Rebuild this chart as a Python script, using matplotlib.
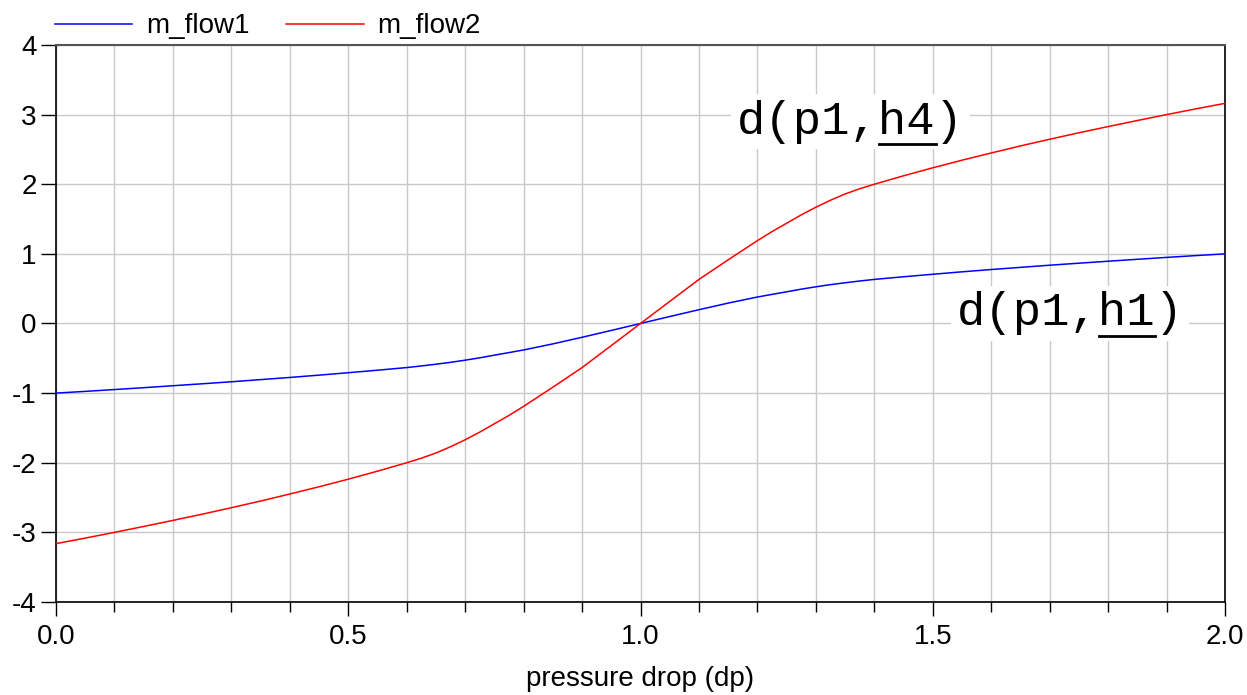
import numpy as np
import matplotlib
matplotlib.use("Agg")
import matplotlib.pyplot as plt
from matplotlib.lines import Line2D

plt.rcParams['font.family'] = ['Liberation Sans', 'DejaVu Sans']
plt.rcParams['axes.unicode_minus'] = False

# values
dp = [0.0, 0.05, 0.1, 0.15, 0.2, 0.25, 0.3, 0.35, 0.4, 0.45, 0.5,
      0.55, 0.6, 0.625, 0.65, 0.675, 0.7, 0.725, 0.75, 0.775, 0.8, 0.85, 0.9, 0.95, 1.0,
      1.05, 1.1, 1.15, 1.2, 1.225, 1.25, 1.275, 1.3, 1.325, 1.35, 1.375, 1.4, 1.45, 1.5,
      1.55, 1.6, 1.65, 1.7, 1.75, 1.8, 1.85, 1.9, 1.95, 2.0]
m_flow1 = [-1.0, -0.975, -0.949, -0.922, -0.894, -0.866, -0.837, -0.806, -0.775, -0.742, -0.707,
           -0.671, -0.633, -0.61, -0.585, -0.558, -0.527, -0.493, -0.455, -0.418, -0.38,
           -0.293, -0.198, -0.1, 0.0,
           0.1, 0.198, 0.293, 0.38, 0.418, 0.455, 0.493, 0.527, 0.558, 0.585, 0.61, 0.633,
           0.671, 0.707, 0.742, 0.775, 0.806, 0.837, 0.866, 0.894, 0.922, 0.949, 0.975, 1.0]
m_flow2 = [-3.162, -3.082, -3.0, -2.915, -2.828, -2.739, -2.646, -2.55, -2.449, -2.345, -2.236,
           -2.121, -2.0, -1.935, -1.86, -1.77, -1.67, -1.56, -1.44, -1.32, -1.19,
           -0.915, -0.633, -0.317, 0.0,
           0.317, 0.633, 0.915, 1.19, 1.32, 1.44, 1.56, 1.67, 1.77, 1.86, 1.935, 2.0,
           2.121, 2.236, 2.345, 2.449, 2.55, 2.646, 2.739, 2.828, 2.915, 3.0, 3.082, 3.162]

fig = plt.figure(figsize=(12.47, 6.95), dpi=100)
ax = fig.add_axes([0.0449, 0.1338, 0.9375, 0.8015])

ax.plot(dp, m_flow1, color='#0000ff', lw=1.1, label='m_flow1', zorder=3)
ax.plot(dp, m_flow2, color='#ff0000', lw=1.1, label='m_flow2', zorder=3)

ax.set_xlim(0, 2)
ax.set_ylim(-4, 4)
ax.set_xticks([0, 0.5, 1.0, 1.5, 2.0])
ax.set_xticklabels(['0.0', '0.5', '1.0', '1.5', '2.0'])
ax.set_xticks(np.arange(0, 2.01, 0.1), minor=True)
ax.set_yticks(range(-4, 5))
ax.grid(True, which='both', axis='x', color='#c8c8c8', lw=1.0)
ax.grid(True, which='major', axis='y', color='#c8c8c8', lw=1.0)
ax.set_axisbelow(True)

ax.tick_params(axis='x', which='major', length=10, width=1, pad=6, labelsize=20)
ax.tick_params(axis='x', which='minor', length=7, width=1)
ax.tick_params(axis='y', which='major', length=11, width=1, pad=3, labelsize=20)
for s in ['left', 'bottom', 'right']:
    ax.spines[s].set_color('black')
    ax.spines[s].set_linewidth(1.2)
ax.spines['top'].set_color('#555555')
ax.spines['top'].set_linewidth(1.5)

ax.set_xlabel('pressure drop (dp)', fontsize=20, labelpad=11)

ax.legend(loc='lower left', bbox_to_anchor=(-0.006, 1.0), ncol=2, frameon=False,
          fontsize=20, handlelength=2.8, handletextpad=0.5, columnspacing=1.3,
          borderpad=0, borderaxespad=0.2)

labels = [(1.165, 2.90, 'd(p1,h4)'), (1.541, 0.148, 'd(p1,h1)')]
texts = []
for x, y, s in labels:
    t = ax.text(x, y, s, fontsize=34, family=['Liberation Mono', 'DejaVu Sans Mono'],
                va='center', ha='left', zorder=4,
                bbox=dict(facecolor='white', edgecolor='none', pad=4))
    texts.append(t)

fig.canvas.draw()
r = fig.canvas.get_renderer()
inv = fig.transFigure.inverted()
for t in texts:
    bb = t.get_window_extent(renderer=r)
    cw = bb.width / 8
    x0, x1 = bb.x0 + 5 * cw, bb.x0 + 7 * cw
    yb = bb.y0 - 0.01 * bb.height
    (fx0, fy), (fx1, _) = inv.transform([(x0, yb), (x1, yb)])
    fig.add_artist(Line2D([fx0, fx1], [fy, fy], color='black', lw=2.0,
                          transform=fig.transFigure, zorder=5))

fig.savefig('out.png', dpi=100)
